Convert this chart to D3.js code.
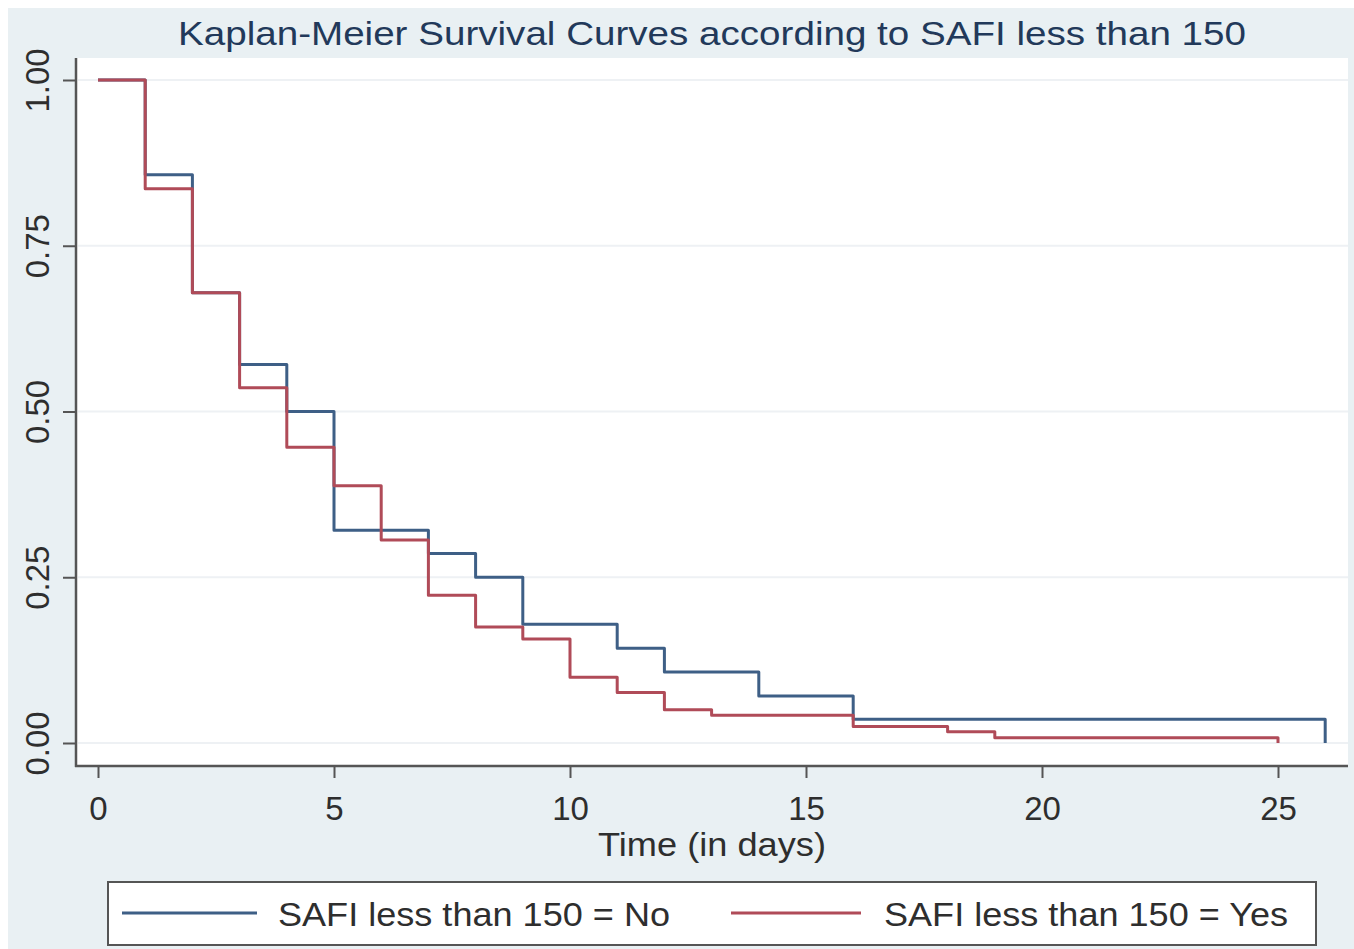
<!DOCTYPE html>
<html>
<head>
<meta charset="utf-8">
<script src="https://cdn.jsdelivr.net/npm/d3@7"></script>
<style>
	body { margin: 0; background: #fff; }
	svg text { font-family: "Liberation Sans", Arial, sans-serif; }
</style>
</head>
<body>
<div id="chart"></div>
<script>
// chart data
var titleText = "Kaplan-Meier Survival Curves according to SAFI less than 150";
var xTitle = "Time (in days)";
var xTicks = [0, 5, 10, 15, 20, 25];
var yTicks = [0, 0.25, 0.5, 0.75, 1];
var seriesNames = ["SAFI less than 150 = No", "SAFI less than 150 = Yes"];

// SAFI < 150 = No
var noTimes = [0, 1, 2, 3, 4, 5, 7, 8, 9, 11, 12, 14, 16, 26];
var noSurv = [1, 0.857, 0.679, 0.571, 0.5, 0.321, 0.286, 0.25, 0.179, 0.143, 0.107, 0.071, 0.036, 0];

// SAFI < 150 = Yes
var yesTimes = [0, 1, 2, 3, 4, 5, 6, 7, 8, 9, 10, 11, 12, 13, 16, 18, 19, 25];
var yesSurv = [1, 0.836, 0.679, 0.536, 0.446, 0.388, 0.306, 0.223, 0.175, 0.157, 0.099, 0.076, 0.05, 0.042, 0.025, 0.017, 0.008, 0];

var colors = ["#3e5f86", "#b04b58"];

var width = 1354, height = 949;
var plot = { left: 76, right: 1348, top: 58, bottom: 766 };

var svg = d3.select("#chart").append("svg")
	.attr("width", width)
	.attr("height", height);

// outer graph region
svg.append("rect")
	.attr("x", 8).attr("y", 8)
	.attr("width", width - 8).attr("height", height - 8)
	.attr("fill", "#e9f0f3");

// plot region
svg.append("rect")
	.attr("x", plot.left).attr("y", plot.top)
	.attr("width", plot.right - plot.left).attr("height", plot.bottom - plot.top)
	.attr("fill", "#fff");

var x = d3.scaleLinear().domain([0, 25]).range([98, 1278]);
var y = d3.scaleLinear().domain([0, 1]).range([743, 80]);

// grid lines
svg.append("g").selectAll("line")
	.data(yTicks)
	.enter().append("line")
	.attr("x1", plot.left + 2).attr("x2", plot.right)
	.attr("y1", function(d) { return y(d); })
	.attr("y2", function(d) { return y(d); })
	.attr("stroke", "#eef1f4")
	.attr("stroke-width", 2);

// survival curves
var line = d3.line()
	.x(function(d) { return x(d[0]); })
	.y(function(d) { return y(d[1]); })
	.curve(d3.curveStepAfter);

var curves = [d3.zip(noTimes, noSurv), d3.zip(yesTimes, yesSurv)];

svg.append("g").selectAll("path")
	.data(curves)
	.enter().append("path")
	.attr("d", line)
	.attr("fill", "none")
	.attr("stroke", function(d, i) { return colors[i]; })
	.attr("stroke-width", 3)
	.attr("stroke-linejoin", "round");

// axes
var axisColor = "#555";
var labelColor = "#2e2e2e";

var yAxis = svg.append("g")
	.attr("transform", "translate(" + plot.left + ",0)")
	.call(d3.axisLeft(y).tickValues(yTicks).tickFormat(d3.format(".2f")).tickSize(13));
yAxis.select(".domain").remove();
yAxis.selectAll(".tick line").attr("stroke", axisColor).attr("stroke-width", 2);
yAxis.selectAll(".tick text")
	.attr("transform", "rotate(-90)")
	.attr("x", 0).attr("y", -27).attr("dy", 0)
	.attr("text-anchor", "middle")
	.attr("font-size", 34)
	.attr("fill", labelColor)
	.attr("textLength", 64)
	.attr("lengthAdjust", "spacingAndGlyphs");

var xAxis = svg.append("g")
	.attr("transform", "translate(0," + plot.bottom + ")")
	.call(d3.axisBottom(x).tickValues(xTicks).tickSize(12));
xAxis.select(".domain").remove();
xAxis.selectAll(".tick line").attr("stroke", axisColor).attr("stroke-width", 2);
xAxis.selectAll(".tick text")
	.attr("y", 54).attr("dy", 0)
	.attr("font-size", 33)
	.attr("fill", labelColor);

// axis lines
svg.append("line")
	.attr("x1", plot.left).attr("x2", plot.left)
	.attr("y1", plot.top).attr("y2", plot.bottom + 1)
	.attr("stroke", axisColor).attr("stroke-width", 2.5);
svg.append("line")
	.attr("x1", plot.left - 1).attr("x2", plot.right)
	.attr("y1", plot.bottom).attr("y2", plot.bottom)
	.attr("stroke", axisColor).attr("stroke-width", 2.5);

// title and axis title
svg.append("text")
	.attr("x", 712).attr("y", 45)
	.attr("text-anchor", "middle")
	.attr("font-size", 34)
	.attr("fill", "#22395a")
	.attr("textLength", 1068)
	.attr("lengthAdjust", "spacingAndGlyphs")
	.text(titleText);

svg.append("text")
	.attr("x", 712).attr("y", 856)
	.attr("text-anchor", "middle")
	.attr("font-size", 34)
	.attr("fill", labelColor)
	.attr("textLength", 228)
	.attr("lengthAdjust", "spacingAndGlyphs")
	.text(xTitle);

// legend
var legend = svg.append("g");
legend.append("rect")
	.attr("x", 108).attr("y", 882)
	.attr("width", 1208).attr("height", 63)
	.attr("fill", "#fff")
	.attr("stroke", axisColor)
	.attr("stroke-width", 2);

var legendItems = [
	{ x1: 122, x2: 257, tx: 278, tw: 392 },
	{ x1: 731, x2: 861, tx: 884, tw: 404 }
];

var items = legend.selectAll(".item")
	.data(seriesNames)
	.enter().append("g")
	.attr("class", "item");

items.append("line")
	.attr("x1", function(d, i) { return legendItems[i].x1; })
	.attr("x2", function(d, i) { return legendItems[i].x2; })
	.attr("y1", 913).attr("y2", 913)
	.attr("stroke", function(d, i) { return colors[i]; })
	.attr("stroke-width", 3);

items.append("text")
	.attr("x", function(d, i) { return legendItems[i].tx; })
	.attr("y", 926)
	.attr("font-size", 33)
	.attr("fill", labelColor)
	.attr("textLength", function(d, i) { return legendItems[i].tw; })
	.attr("lengthAdjust", "spacingAndGlyphs")
	.text(function(d) { return d; });
</script>
</body>
</html>
